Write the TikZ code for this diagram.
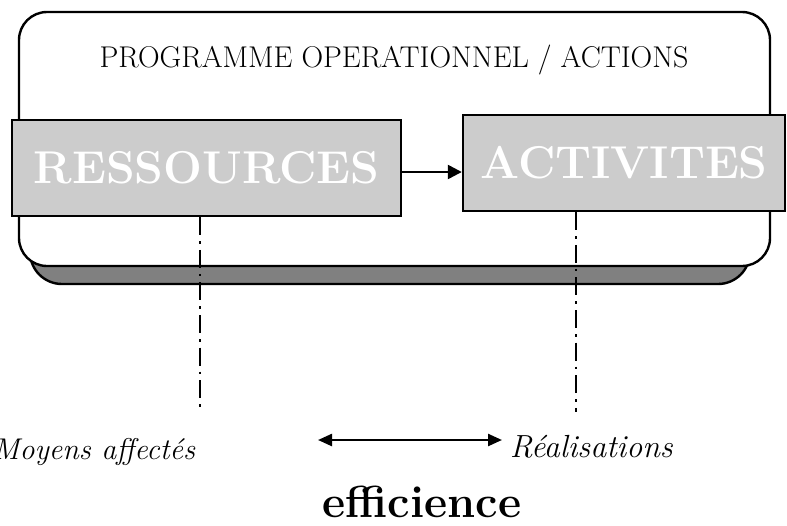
\documentclass[tikz,border=0pt]{standalone}
\usepackage{tikz}
\usetikzlibrary{positioning,arrows.meta}

\begin{document}
\begin{tikzpicture}[x=0.5pt,y=-0.5pt,line width=1.2pt,
  bloc/.style={draw,fill=black!20,text=white,font=\fontsize{23}{25}\selectfont\bfseries,inner sep=0pt},
  repere/.style={line width=1.3pt,dash pattern=on 9pt off 3pt on 1.3pt off 3pt},
  legende/.style={font=\fontsize{16}{18}\selectfont\itshape}]
  \useasboundingbox (0,0) rectangle (787,525);
  % cadre du programme, avec son ombre
  \filldraw[fill=black!50,rounded corners=16pt] (30,30) rectangle (750,284);
  \filldraw[fill=white,rounded corners=14pt] (19,12) rectangle (770,266);
  \node (Programme) at (394,60) {\fontsize{15}{17}\selectfont PROGRAMME OPERATIONNEL / ACTIONS};

  \node[bloc,minimum width=194.5pt,minimum height=48pt] (Ressources) at (206.5,168) {RESSOURCES};
  \node[bloc,minimum width=161pt,minimum height=48pt] (Activites) at (624,163) {ACTIVITES};

  \coordinate (MoyensBas) at (200,412);
  \coordinate (RealBas) at (576,412);
  \node[legende,font=\fontsize{15}{17}\selectfont\itshape,anchor=west,inner sep=0pt] (Moyens) at (-8,452) {Moyens affectés};
  \node[legende,anchor=west] (Realisations) at (502,447) {Réalisations};
  \coordinate (FlecheG) at (318,440);
  \node[font=\fontsize{22.5}{24}\selectfont\bfseries] (Efficience) at (422,502) {efficience};

  \path[-{Triangle[length=7pt,width=7pt]}]
     (Ressources.east |- 0,172) edge (Activites.west |- 0,172);
  \path[repere]
     (Ressources.south -| MoyensBas) edge (MoyensBas)
     (Activites.south -| RealBas) edge (RealBas);
  \path[{Triangle[length=7pt,width=6pt]}-{Triangle[length=7pt,width=6pt]}]
     (FlecheG) edge (Realisations.west |- FlecheG);
\end{tikzpicture}
\end{document}
